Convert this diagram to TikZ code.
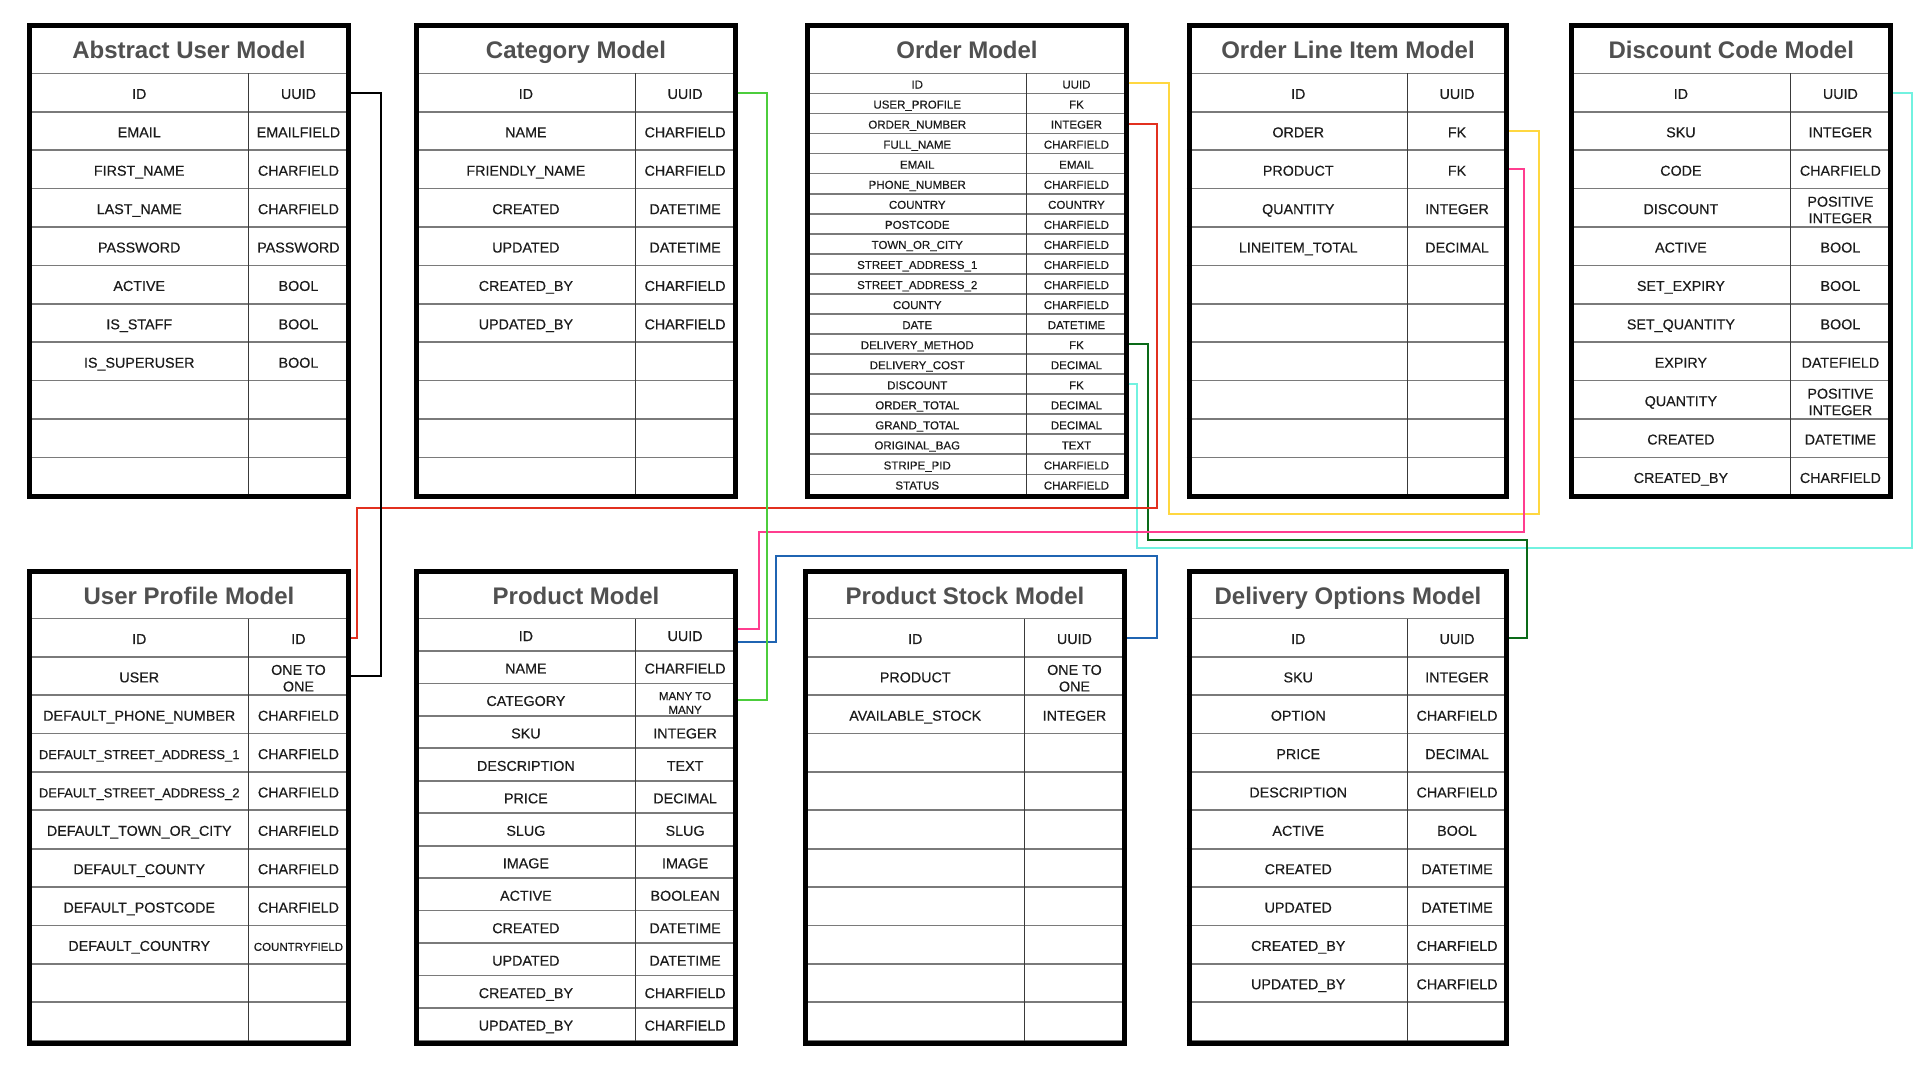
\documentclass[tikz,border=0pt]{standalone}
\usepackage{fontspec}
\setmainfont{Liberation Sans}
\newfontfamily\cellfont{Liberation Sans}[FakeBold=0.4]
\usetikzlibrary{fit}
\definecolor{gridgray}{HTML}{7A7A7A}
\definecolor{divgray}{HTML}{3A3A3A}
\definecolor{celltext}{HTML}{1C1C1C}
\definecolor{titlegray}{HTML}{505050}
\definecolor{cred}{HTML}{E2301F}
\definecolor{cgreen}{HTML}{4CCD3C}
\definecolor{cyellow}{HTML}{FFD740}
\definecolor{cpink}{HTML}{FF3D8F}
\definecolor{cdkgreen}{HTML}{0A6A18}
\definecolor{ccyan}{HTML}{72F2E0}
\definecolor{cblue}{HTML}{1F64B2}
\newcommand\two[2]{\smash{\raisebox{-4.56pt}{\begin{tabular}[b]{@{}c@{}}#1\\#2\end{tabular}}}}
\newcommand\twos[2]{\smash{\raisebox{-3.96pt}{\fontsize{5.75}{6.9}\selectfont\begin{tabular}[b]{@{}c@{}}#1\\#2\end{tabular}}}}
\newcommand\sma[1]{{\fontsize{6.5}{7.5}\selectfont #1}}
\newcommand\smb[1]{{\fontsize{5.75}{6.9}\selectfont #1}}
\tikzset{
  frame/.style={draw=black, line width=2.5pt, inner sep=0pt, fill=none},
  rowline/.style={draw=gridgray, line width=0.85pt},
  divline/.style={draw=divgray, line width=0.5pt},
  cell/.style={inner sep=0pt, text=celltext, font=\cellfont\fontsize{7.15}{8.3}\selectfont, text height=6.3pt, text depth=0pt},
  ocell/.style={inner sep=0pt, text=celltext, font=\cellfont\fontsize{5.75}{6.9}\selectfont, text height=5.1pt, text depth=0pt},
  curcell/.style={cell},
  titlenode/.style={inner sep=0pt, text=titlegray, font=\fontsize{12}{14}\selectfont\bfseries, text height=8.6pt, text depth=0pt},
  conn/.style={line width=1pt},
}
% #1 name #2 x0 #3 x1 #4 xdiv #5 y0 #6 ysep #7 y1 #8 rowh #9 title
\newcommand\mtable[9]{%
  \foreach [count=\i] \a/\b in \currows {
    \pgfmathsetmacro\yc{#6+(\i-0.5)*#8}
    \pgfmathsetmacro\yb{#6+\i*#8}
    \draw[rowline] (#2,\yb) -- (#3,\yb);
    \node[curcell] (#1-\i-n) at ({(#2+2.5+#4)/2},\yc) {\a};
    \node[curcell] (#1-\i-t) at ({(#4+#3-2.5)/2},\yc) {\b};
  }
  \draw[rowline] (#2,#6) -- (#3,#6);
  \draw[divline] (#4,#6) -- (#4,#7);
  \node[titlenode] (#1-title) at ({(#2+#3)/2},{#5+27}) {#9};
  \node[frame, fit={(#2+2.5,#5+2.5) (#3-2.5,#7-2.5)}] (#1) {};
}
\begin{document}
\begin{tikzpicture}[x=0.5pt,y=-0.5pt]
\fill[white] (0,0) rectangle (1918,1080);
\useasboundingbox (0,0) rectangle (1918,1080);

% ---------- top row ----------
\def\currows{ID/UUID, EMAIL/EMAILFIELD, FIRST\_NAME/CHARFIELD, LAST\_NAME/CHARFIELD, PASSWORD/PASSWORD, ACTIVE/BOOL, IS\_STAFF/BOOL, IS\_SUPERUSER/BOOL, {}/{}, {}/{}, {}/{}}
\mtable{au}{27.3}{350.7}{248.7}{22.7}{73.4}{499.3}{38.4}{Abstract User Model}

\def\currows{ID/UUID, NAME/CHARFIELD, FRIENDLY\_NAME/CHARFIELD, CREATED/DATETIME, UPDATED/DATETIME, CREATED\_BY/CHARFIELD, UPDATED\_BY/CHARFIELD, {}/{}, {}/{}, {}/{}, {}/{}}
\mtable{cat}{414.3}{737.7}{635}{22.7}{73.4}{499.3}{38.4}{Category Model}

\tikzset{curcell/.style={ocell}}
\def\currows{ID/UUID, USER\_PROFILE/FK, ORDER\_NUMBER/INTEGER, FULL\_NAME/CHARFIELD, EMAIL/EMAIL, PHONE\_NUMBER/CHARFIELD, COUNTRY/COUNTRY, POSTCODE/CHARFIELD, TOWN\_OR\_CITY/CHARFIELD, STREET\_ADDRESS\_1/CHARFIELD, STREET\_ADDRESS\_2/CHARFIELD, COUNTY/CHARFIELD, DATE/DATETIME, DELIVERY\_METHOD/FK, DELIVERY\_COST/DECIMAL, DISCOUNT/FK, ORDER\_TOTAL/DECIMAL, GRAND\_TOTAL/DECIMAL, ORIGINAL\_BAG/TEXT, STRIPE\_PID/CHARFIELD, STATUS/CHARFIELD}
\mtable{order}{805.3}{1128.7}{1026.7}{22.7}{73.4}{499.3}{20.05}{Order Model}
\tikzset{curcell/.style={cell}}

\def\currows{ID/UUID, ORDER/FK, PRODUCT/FK, QUANTITY/INTEGER, LINEITEM\_TOTAL/DECIMAL, {}/{}, {}/{}, {}/{}, {}/{}, {}/{}, {}/{}}
\mtable{oli}{1186.7}{1509.3}{1407.3}{22.7}{73.4}{499.3}{38.4}{Order Line Item Model}

\def\currows{ID/UUID, SKU/INTEGER, CODE/CHARFIELD, DISCOUNT/\two{POSITIVE}{INTEGER}, ACTIVE/BOOL, SET\_EXPIRY/BOOL, SET\_QUANTITY/BOOL, EXPIRY/DATEFIELD, QUANTITY/\two{POSITIVE}{INTEGER}, CREATED/DATETIME, CREATED\_BY/CHARFIELD}
\mtable{disc}{1569.3}{1893.3}{1790}{22.7}{73.4}{499.3}{38.4}{Discount Code Model}

% ---------- bottom row ----------
\def\currows{ID/ID, USER/\two{ONE TO}{ONE}, DEFAULT\_PHONE\_NUMBER/CHARFIELD, \sma{DEFAULT\_STREET\_ADDRESS\_1}/CHARFIELD, \sma{DEFAULT\_STREET\_ADDRESS\_2}/CHARFIELD, DEFAULT\_TOWN\_OR\_CITY/CHARFIELD, DEFAULT\_COUNTY/CHARFIELD, DEFAULT\_POSTCODE/CHARFIELD, DEFAULT\_COUNTRY/\smb{COUNTRYFIELD}, {}/{}, {}/{}}
\mtable{up}{27.3}{350.7}{248.7}{569.3}{618.5}{1045.5}{38.36}{User Profile Model}

\def\currows{ID/UUID, NAME/CHARFIELD, CATEGORY/\twos{MANY TO}{MANY}, SKU/INTEGER, DESCRIPTION/TEXT, PRICE/DECIMAL, SLUG/SLUG, IMAGE/IMAGE, ACTIVE/BOOLEAN, CREATED/DATETIME, UPDATED/DATETIME, CREATED\_BY/CHARFIELD, UPDATED\_BY/CHARFIELD}
\mtable{prod}{414.3}{737.7}{635}{569.3}{618.5}{1045.5}{32.46}{Product Model}

\def\currows{ID/UUID, PRODUCT/\two{ONE TO}{ONE}, AVAILABLE\_STOCK/INTEGER, {}/{}, {}/{}, {}/{}, {}/{}, {}/{}, {}/{}, {}/{}, {}/{}}
\mtable{stock}{803.3}{1126.7}{1024.7}{569.3}{618.5}{1045.5}{38.36}{Product Stock Model}

\def\currows{ID/UUID, SKU/INTEGER, OPTION/CHARFIELD, PRICE/DECIMAL, DESCRIPTION/CHARFIELD, ACTIVE/BOOL, CREATED/DATETIME, UPDATED/DATETIME, CREATED\_BY/CHARFIELD, UPDATED\_BY/CHARFIELD, {}/{}}
\mtable{deliv}{1186.7}{1509.3}{1407.3}{569.3}{618.5}{1045.5}{38.36}{Delivery Options Model}

% ---------- connectors ----------
\coordinate (pinkS) at (prod.east |- prod-1-t);
\coordinate (blueS) at (prod.east |- prod-1-t);
\draw[conn, ccyan] (order.east |- order-16-t) -| (1136.7,548.5) -- (1911.7,548.5) |- (disc.east |- disc-1-t);
\draw[conn, cdkgreen] (order.east |- order-14-t) -| (1147.5,540) -- (1526.7,540) |- (deliv.east |- deliv-1-t);
\draw[conn, cred] (order.east |- order-3-t) -| (1156.7,507.7) -- (356.7,507.7) |- (up.east |- up-1-t);
\draw[conn, cyellow] (order.east |- order-1-t) -| (1168.5,514.3) -- (1539,514.3) |- (oli.east |- oli-2-t);
\draw[conn, cblue] ([yshift=-3.45pt]blueS) -| (776,556.2) -- (1156.7,556.2) |- (stock.east |- stock-1-t);
\draw[conn, cpink] ([yshift=2.95pt]pinkS) -| (759.3,532) -- (1524,532) |- (oli.east |- oli-3-t);
\draw[conn, cgreen] (cat.east |- cat-1-t) -- ++(29.3,0) |- (prod.east |- prod-3-t);
\draw[conn, black] (au.east |- au-1-t) -- ++(30,0) |- (up.east |- up-2-t);
\end{tikzpicture}
\end{document}
